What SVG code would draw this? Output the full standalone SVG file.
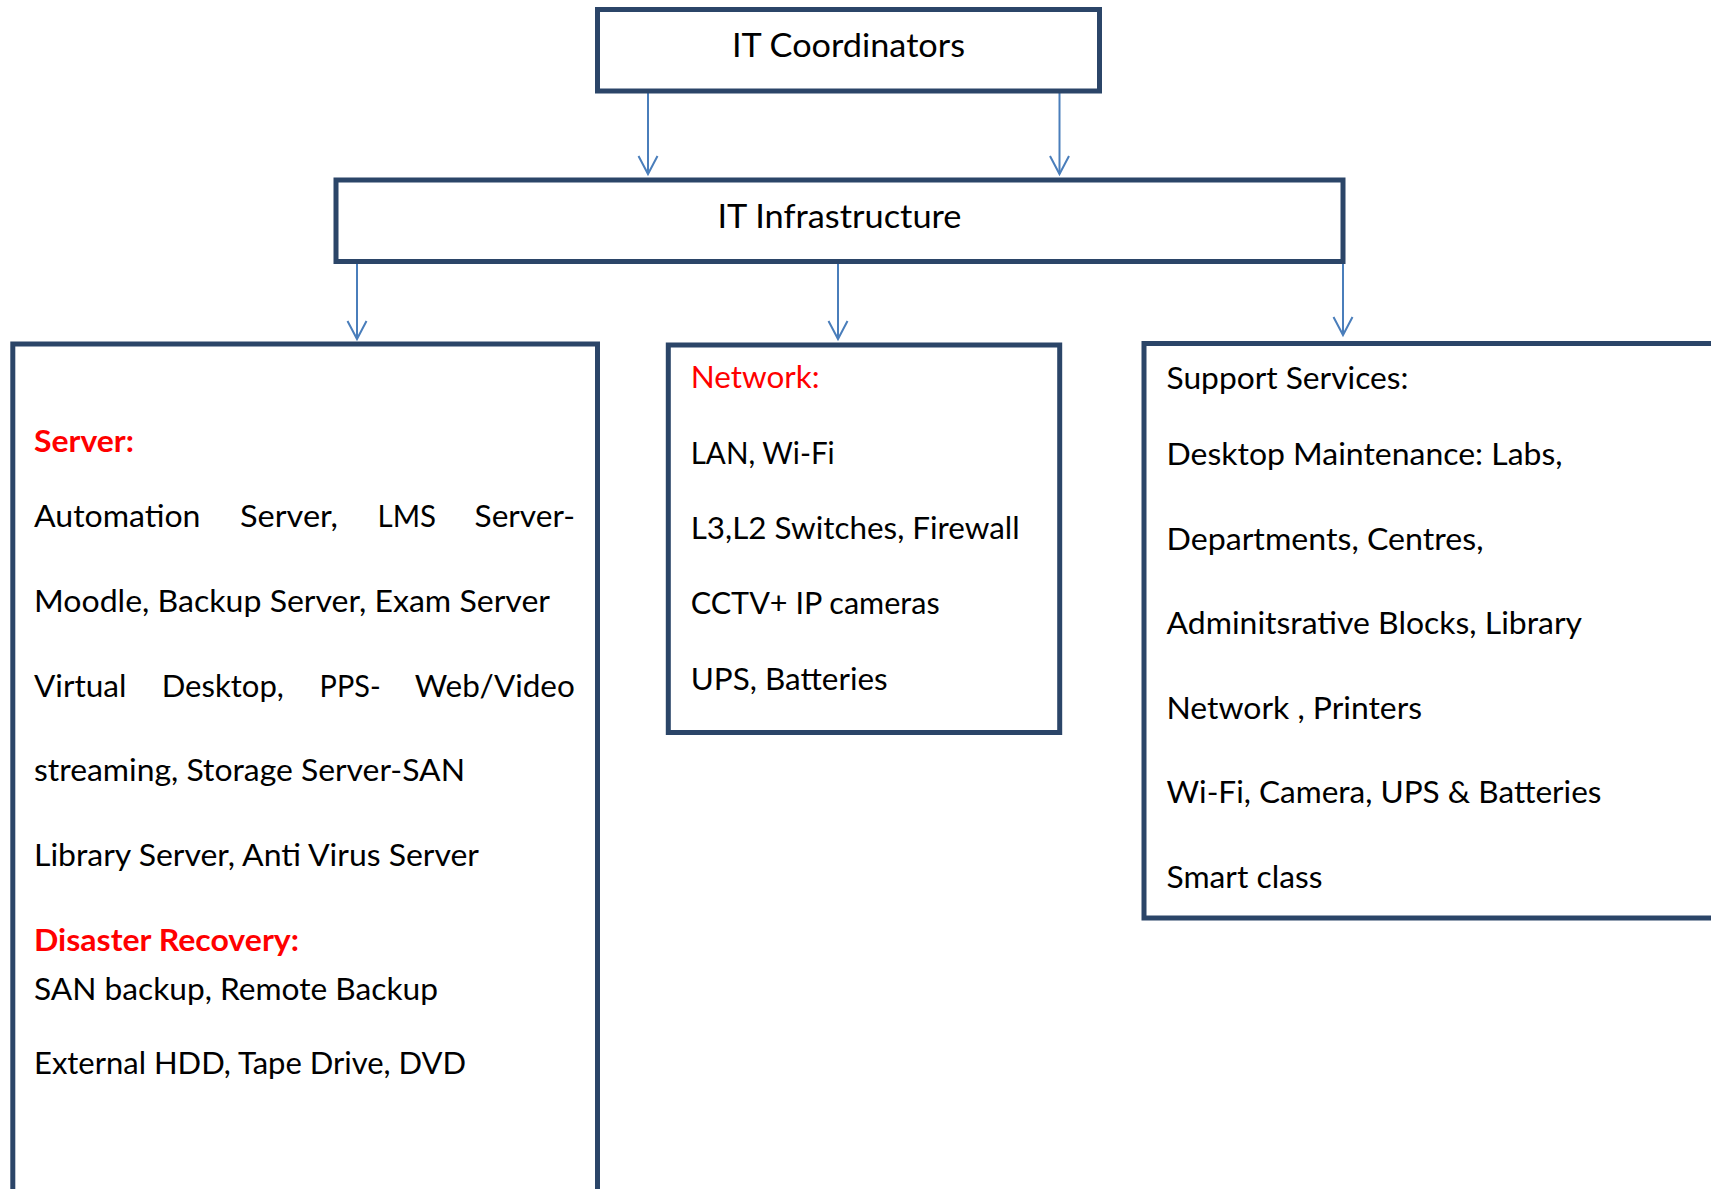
<svg xmlns="http://www.w3.org/2000/svg" width="1711" height="1189" viewBox="0 0 1711 1189">
  <style>
    .box { fill: #ffffff; stroke: #2b4568; stroke-width: 5; }
    .link { fill: none; stroke: #4a7ebb; stroke-width: 2; }
    .title { font-family: Lato, "Liberation Sans", sans-serif; font-size: 33px; fill: #000000; }
    .body { font-family: Lato, "Liberation Sans", sans-serif; font-size: 30px; fill: #000000; }
    .head { fill: #ff0000; }
    .bold { font-weight: bold; }
  </style>
  <defs>
    <marker id="arrow" viewBox="-20 -12 24 24" markerWidth="24" markerHeight="24" refX="0" refY="0" orient="auto" markerUnits="userSpaceOnUse">
      <path d="M -18 -9.5 L 0 0 L -18 9.5" fill="none" stroke="#4a7ebb" stroke-width="2"/>
    </marker>
  </defs>
  <rect width="1711" height="1189" fill="#ffffff"/>

  <!-- connectors -->
  <g id="connectors">
    <line class="link" x1="648" y1="92" x2="648" y2="174" marker-end="url(#arrow)"/>
    <line class="link" x1="1059.5" y1="92" x2="1059.5" y2="174" marker-end="url(#arrow)"/>
    <line class="link" x1="357" y1="263" x2="357" y2="339" marker-end="url(#arrow)"/>
    <line class="link" x1="838" y1="263" x2="838" y2="339" marker-end="url(#arrow)"/>
    <line class="link" x1="1343" y1="263" x2="1343" y2="335" marker-end="url(#arrow)"/>
  </g>

  <!-- top level -->
  <g id="it-coordinators">
    <rect class="box" x="597.5" y="9.5" width="502" height="81.5"/>
    <text class="title" x="732" y="57" textLength="233" lengthAdjust="spacingAndGlyphs">IT Coordinators</text>
  </g>

  <g id="it-infrastructure">
    <rect class="box" x="336" y="180" width="1007" height="81.5"/>
    <text class="title" x="717.5" y="228" textLength="244" lengthAdjust="spacingAndGlyphs">IT Infrastructure</text>
  </g>

  <!-- server column -->
  <g id="server">
    <rect class="box" x="12.8" y="344" width="584.7" height="900"/>
    <text class="body head bold" x="34" y="452" textLength="100" lengthAdjust="spacingAndGlyphs">Server:</text>
    <text class="body" y="527"><tspan x="34" textLength="166.5" lengthAdjust="spacingAndGlyphs">Automation</tspan> <tspan x="240" textLength="98" lengthAdjust="spacingAndGlyphs">Server,</tspan> <tspan x="377.6" textLength="58.5" lengthAdjust="spacingAndGlyphs">LMS</tspan> <tspan x="474.6" textLength="100.4" lengthAdjust="spacingAndGlyphs">Server-</tspan></text>
    <text class="body" x="34" y="612" textLength="516" lengthAdjust="spacingAndGlyphs">Moodle, Backup Server, Exam Server</text>
    <text class="body" y="697"><tspan x="34" textLength="92.5" lengthAdjust="spacingAndGlyphs">Virtual</tspan> <tspan x="161.7" textLength="122.2" lengthAdjust="spacingAndGlyphs">Desktop,</tspan> <tspan x="319.6" textLength="61" lengthAdjust="spacingAndGlyphs">PPS-</tspan> <tspan x="414.8" textLength="160" lengthAdjust="spacingAndGlyphs">Web/Video</tspan></text>
    <text class="body" x="34" y="781" textLength="431" lengthAdjust="spacingAndGlyphs">streaming, Storage Server-SAN</text>
    <text class="body" x="34" y="866" textLength="445" lengthAdjust="spacingAndGlyphs">Library Server, Anti Virus Server</text>
    <text class="body head bold" x="34" y="951" textLength="265" lengthAdjust="spacingAndGlyphs">Disaster Recovery:</text>
    <text class="body" x="34" y="1000" textLength="404" lengthAdjust="spacingAndGlyphs">SAN backup, Remote Backup</text>
    <text class="body" x="34" y="1074" textLength="432" lengthAdjust="spacingAndGlyphs">External HDD, Tape Drive, DVD</text>
  </g>

  <!-- network column -->
  <g id="network">
    <rect class="box" x="668.3" y="345" width="391.4" height="387.5"/>
    <text class="body head" x="690.7" y="388" textLength="129" lengthAdjust="spacingAndGlyphs">Network:</text>
    <text class="body" x="690.7" y="464" textLength="144" lengthAdjust="spacingAndGlyphs">LAN, Wi-Fi</text>
    <text class="body" x="690.7" y="539" textLength="329" lengthAdjust="spacingAndGlyphs">L3,L2 Switches, Firewall</text>
    <text class="body" x="690.7" y="614" textLength="249" lengthAdjust="spacingAndGlyphs">CCTV+ IP cameras</text>
    <text class="body" x="690.7" y="690" textLength="197" lengthAdjust="spacingAndGlyphs">UPS, Batteries</text>
  </g>

  <!-- support column -->
  <g id="support-services">
    <rect class="box" x="1144" y="343.5" width="620" height="574.5"/>
    <text class="body" x="1166.5" y="389" textLength="242" lengthAdjust="spacingAndGlyphs">Support Services:</text>
    <text class="body" x="1166.5" y="465" textLength="396" lengthAdjust="spacingAndGlyphs">Desktop Maintenance: Labs,</text>
    <text class="body" x="1166.5" y="550" textLength="317" lengthAdjust="spacingAndGlyphs">Departments, Centres,</text>
    <text class="body" x="1166.5" y="634" textLength="415.5" lengthAdjust="spacingAndGlyphs">Adminitsrative Blocks, Library</text>
    <text class="body" x="1166.5" y="719" textLength="255.5" lengthAdjust="spacingAndGlyphs">Network , Printers</text>
    <text class="body" x="1166.5" y="803" textLength="435" lengthAdjust="spacingAndGlyphs">Wi-Fi, Camera, UPS &amp; Batteries</text>
    <text class="body" x="1166.5" y="888" textLength="156" lengthAdjust="spacingAndGlyphs">Smart class</text>
  </g>
</svg>
